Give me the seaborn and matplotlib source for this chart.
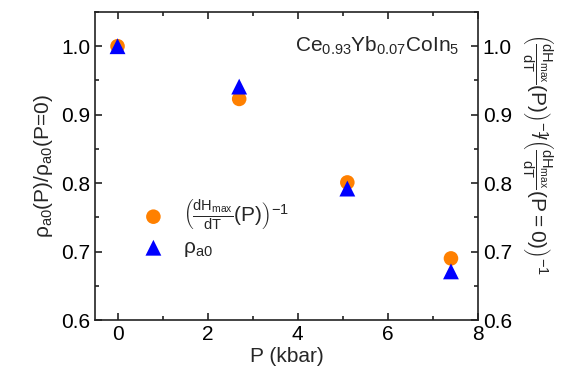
import matplotlib
matplotlib.use("Agg")
import matplotlib.pyplot as plt
import seaborn as sns
import pandas as pd
from matplotlib.ticker import MultipleLocator

# values
pressure = [0.0, 2.7, 5.1, 7.4]
dh_inv = [1.0, 0.923, 0.801, 0.690]
rho_a0 = [1.0, 0.941, 0.792, 0.671]

sns.set_style("ticks")
plt.rcParams['font.family'] = ['Liberation Sans', 'DejaVu Sans']
plt.rcParams['mathtext.fontset'] = 'custom'
plt.rcParams['mathtext.rm'] = 'Liberation Sans'
plt.rcParams['mathtext.it'] = 'Liberation Sans:italic'
plt.rcParams['mathtext.bf'] = 'Liberation Sans:bold'

df = pd.DataFrame({"P": pressure, "dh": dh_inv, "rho": rho_a0})

fig = plt.figure(figsize=(5.7, 3.8), dpi=100)
ax = fig.add_axes([95/570, 1 - 320/380, (478-95)/570, (320-12)/380])

dh_label = r"$\left(\frac{\mathrm{dH}_{\mathrm{max}}}{\mathrm{dT}}\mathrm{(P)}\right)^{\mathrm{-1}}$"
sns.scatterplot(x="P", y="dh", data=df, ax=ax, color="#ff8000", marker="o",
                s=110, edgecolor="none", label=dh_label, zorder=3)
sns.scatterplot(x="P", y="rho", data=df, ax=ax, color="#0000ff", marker="^",
                s=130, edgecolor="none", label=r"ρ$_{\mathrm{a0}}$", zorder=4)

ax.set_xlim(-0.5, 8)
ax.set_ylim(0.6, 1.05)
ax.xaxis.set_major_locator(MultipleLocator(2))
ax.xaxis.set_minor_locator(MultipleLocator(1))
ax.yaxis.set_minor_locator(MultipleLocator(0.05))
ax.set_yticks([0.6, 0.7, 0.8, 0.9, 1.0])
ax.set_yticklabels(["0.6", "0.7", "0.8", "0.9", "1.0"])
ax.tick_params(which="both", direction="in", top=True, right=True,
               labelright=True, labelsize=15, width=1.2, colors="#222222",
               labelcolor="black")
ax.tick_params(which="major", length=5)
ax.tick_params(which="minor", length=3)
for sp in ax.spines.values():
    sp.set_linewidth(1.2)
    sp.set_color("#222222")

ax.set_xlabel("P (kbar)", fontsize=15, labelpad=2)
ax.set_ylabel(r"ρ$_{\mathrm{a0}}$(P)/ρ$_{\mathrm{a0}}$(P=0)", fontsize=15, labelpad=4)

right_label = (r"$\left(\frac{\mathrm{dH}_{\mathrm{max}}}{\mathrm{dT}}\mathrm{(P)}\right)^{\mathrm{-1}}"
               r"\!\!/\left(\frac{\mathrm{dH}_{\mathrm{max}}}{\mathrm{dT}}\mathrm{(P=0)}\right)^{\mathrm{-1}}$")
ax.text(1.155, 0.54, right_label, transform=ax.transAxes, rotation=270,
        ha="center", va="center", fontsize=15)

ax.text(0.95, 0.89, r"Ce$_{\mathrm{0.93}}$Yb$_{\mathrm{0.07}}$CoIn$_{\mathrm{5}}$",
        transform=ax.transAxes, ha="right", va="center", fontsize=15)

ax.legend(loc="lower left", bbox_to_anchor=(0.06, 0.15), frameon=False,
          fontsize=15, handletextpad=0.4, labelspacing=0.3, borderpad=0.2)

fig.savefig("out.png", dpi=100)
